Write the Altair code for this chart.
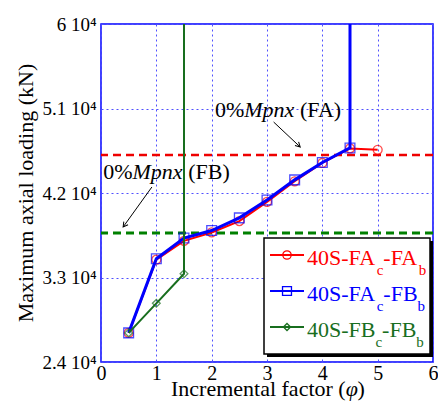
import altair as alt
import pandas as pd

# ---------------- data ----------------
phi_fafa = [0.5, 1, 1.5, 2, 2.5, 3, 3.5, 4, 4.5, 5]
load_fafa = [27100, 34900, 36900, 37800, 39000, 41050, 43250, 45200, 46750, 46600]

phi_fafb = [0.5, 1, 1.5, 2, 2.5, 3, 3.5, 4, 4.5, 4.5]
load_fafb = [27100, 35000, 37200, 38000, 39350, 41250, 43400, 45250, 46800, 100000]

phi_fbfb = [0.5, 1, 1.5, 1.5]
load_fbfb = [27100, 30250, 33400, 100000]

x_ticks = [0, 1, 2, 3, 4, 5, 6]
y_ticks = [24000, 33000, 42000, 51000, 60000]

ref_fa = 46050   # 0%Mpnx (FA)
ref_fb = 37740   # 0%Mpnx (FB)

# annotation anchors (data coords)
ann_fa = (2.06, 50840)
ann_fb = (0.04, 44240)
arrow_fa = (3.12, 49560, 3.60, 46900)
arrow_fb = (0.92, 42640, 0.40, 38380)

W, H = 332, 338
FONT = "Liberation Serif"
RED, BLUE, GREEN = "#ff0000", "#0000ff", "#186e1e"

xs = alt.Scale(domain=[0, 6], nice=False, zero=False)
ys = alt.Scale(domain=[24000, 60000], nice=False, zero=False)

xaxis = alt.Axis(values=x_ticks, grid=True, gridColor="#5050ff", gridDash=[2, 3],
                 gridWidth=1, ticks=False, domain=False, labelFont=FONT,
                 labelFontSize=20, labelColor="black", labelPadding=1, title=None,
                 labelFlush=False)
yaxis = alt.Axis(values=y_ticks, grid=True, gridColor="#5050ff", gridDash=[2, 3],
                 gridWidth=1, ticks=False, domain=False, labelFont=FONT,
                 labelFontSize=19, labelColor="black", labelPadding=5, title=None,
                 labelExpr="datum.value/10000 + ' 10\u2074'", labelFlush=False)

X = alt.X("x:Q", scale=xs, axis=xaxis)
Y = alt.Y("y:Q", scale=ys, axis=yaxis)


def df(xv, yv):
    return pd.DataFrame({"x": xv, "y": yv})


one = pd.DataFrame({"k": [0]})

layers = []

# reference dashed lines
layers.append(alt.Chart(pd.DataFrame({"y": [ref_fa]})).mark_rule(
    color="#ee0000", strokeDash=[8, 5], strokeWidth=2.5).encode(y=Y))
layers.append(alt.Chart(pd.DataFrame({"y": [ref_fb]})).mark_rule(
    color="#008000", strokeDash=[8, 5], strokeWidth=3).encode(y=Y))

# series
series = [
    (phi_fafa, load_fafa, RED, "circle", 80, 2),
    (phi_fafb, load_fafb, BLUE, "square", 95, 3),
    (phi_fbfb, load_fbfb, GREEN, "diamond", 60, 2),
]
for xv, yv, col, shp, sz, lw in series:
    d = df(xv, yv)
    layers.append(alt.Chart(d).mark_line(color=col, strokeWidth=lw, clip=True).encode(x=X, y=Y))
    layers.append(alt.Chart(d).mark_point(color=col, shape=shp, size=sz, filled=False,
                                          strokeWidth=1.3, clip=True).encode(x=X, y=Y))

# arrows
for (x1, y1, x2, y2) in [arrow_fa, arrow_fb]:
    d = pd.DataFrame({"x": [x1], "y": [y1], "x2": [x2], "y2": [y2]})
    layers.append(alt.Chart(d).mark_rule(color="black", strokeWidth=1).encode(
        x=X, y=Y, x2="x2:Q", y2="y2:Q"))
arrow_heads = pd.DataFrame({"x": [arrow_fa[2], arrow_fb[2]], "y": [arrow_fa[3], arrow_fb[3]],
                            "ang": [134, 216]})
layers.append(alt.Chart(arrow_heads).mark_point(
    shape="M-0.55,1L0,0L0.55,1", size=90, filled=False, color="black", strokeWidth=1,
    opacity=1).encode(x=X, y=Y, angle=alt.Angle("ang:Q", scale=None)))

# annotation text (0%Mpnx (XX))
for (ax, ay), lab in [(ann_fa, "(FA)"), (ann_fb, "(FB)")]:
    d = df([ax], [ay])
    pieces = [("0%", 0, "normal"), ("Mpnx", 29.3, "italic"), (lab, 85.0, "normal")]
    for s, dx, st in pieces:
        layers.append(alt.Chart(d).mark_text(
            text=s, font=FONT, fontSize=22, fontStyle=st, align="left", baseline="middle",
            dx=dx, color="black").encode(x=X, y=Y))

# axis titles (manual, italic phi)
tx0 = 70
TY = 372
layers.append(alt.Chart(one).mark_text(text="Incremental factor (", font=FONT, fontSize=22,
                                       align="left", baseline="alphabetic").encode(
    x=alt.value(tx0), y=alt.value(TY)))
layers.append(alt.Chart(one).mark_text(text="\u03c6", font=FONT, fontSize=22, fontStyle="italic",
                                       align="left", baseline="alphabetic").encode(
    x=alt.value(tx0 + 174.7), y=alt.value(TY)))
layers.append(alt.Chart(one).mark_text(text=")", font=FONT, fontSize=22,
                                       align="left", baseline="alphabetic").encode(
    x=alt.value(tx0 + 186.5), y=alt.value(TY)))
layers.append(alt.Chart(one).mark_text(text="Maximum axial loading (kN)", font=FONT, fontSize=22,
                                       align="center", baseline="alphabetic", angle=270).encode(
    x=alt.value(-68), y=alt.value(H / 2)))

# legend box
LX = 163
layers.append(alt.Chart(one).mark_rect(color="black").encode(
    x=alt.value(LX + 3), x2=alt.value(W), y=alt.value(217), y2=alt.value(333)))
layers.append(alt.Chart(one).mark_rect(fill="white", stroke="black", strokeWidth=1.5).encode(
    x=alt.value(LX), x2=alt.value(W - 3), y=alt.value(214), y2=alt.value(330)))

EM = {"4": .5, "0": .5, "S": .556, "-": .333, "F": .556, "A": .722, "B": .667, "c": .444, "b": .5}


def wid(s, fs):
    return sum(EM[ch] for ch in s) * fs


legend_rows = [
    ("40S-FA", "c", "-FA", "b", RED, "circle", 70),
    ("40S-FA", "c", "-FB", "b", BLUE, "square", 80),
    ("40S-FB", "c", "-FB", "b", GREEN, "diamond", 50),
]
for i, (m1, s1, m2, s2, col, shp, sz) in enumerate(legend_rows):
    ly = 231 + 36 * i
    layers.append(alt.Chart(one).mark_rule(color=col, strokeWidth=2).encode(
        x=alt.value(LX + 6), x2=alt.value(LX + 40), y=alt.value(ly)))
    layers.append(alt.Chart(one).mark_point(color=col, shape=shp, size=sz, filled=False,
                                            strokeWidth=1.3, opacity=1).encode(
        x=alt.value(LX + 23), y=alt.value(ly)))
    xpos = LX + 43
    base = ly + 10
    for s, fs, off in [(m1, 22, 0), (s1, 15, 10), (m2, 22, 0), (s2, 15, 10)]:
        layers.append(alt.Chart(one).mark_text(text=s, font=FONT, fontSize=fs, color=col,
                                               align="left", baseline="alphabetic").encode(
            x=alt.value(xpos), y=alt.value(base + off)))
        xpos += wid(s, fs)

chart = alt.layer(*layers).properties(
    width=W, height=H,
    autosize=alt.AutoSizeParams(type="none"),
    padding={"left": 93, "top": 16, "right": 5, "bottom": 39},
).configure_view(stroke=BLUE, strokeWidth=1.5)

chart.save("out.html", embed_options={"renderer": "svg", "actions": False})
